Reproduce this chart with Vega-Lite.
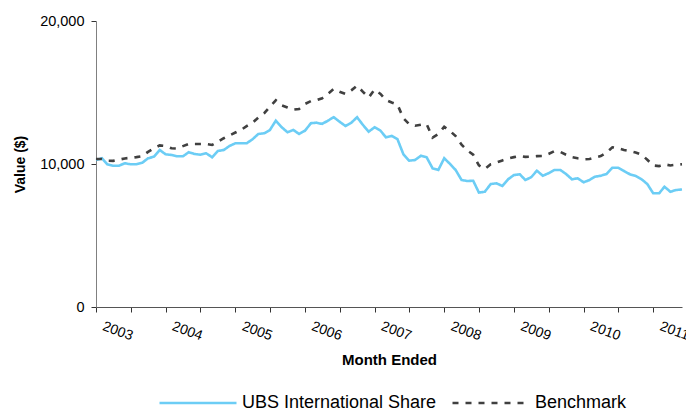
{
  "$schema": "https://vega.github.io/schema/vega-lite/v6.json",
  "width": 586,
  "height": 286,
  "autosize": {"type": "none"},
  "padding": {"left": 96, "top": 21, "right": 4, "bottom": 105},
  "background": "white",
  "config": {"view": {"stroke": null}, "font": "Liberation Sans"},
  "data": {"values": [
    {"date":"2003-01-01","UBS":10280,"B":10350},{"date":"2003-02-01","UBS":10400,"B":10350},{"date":"2003-03-01","UBS":9980,"B":10230},{"date":"2003-04-01","UBS":9880,"B":10220},{"date":"2003-05-01","UBS":9880,"B":10300},{"date":"2003-06-01","UBS":10050,"B":10390},{"date":"2003-07-01","UBS":9980,"B":10430},{"date":"2003-08-01","UBS":9980,"B":10480},{"date":"2003-09-01","UBS":10090,"B":10550},{"date":"2003-10-01","UBS":10400,"B":10850},{"date":"2003-11-01","UBS":10510,"B":11100},{"date":"2003-12-01","UBS":10980,"B":11300},
    {"date":"2004-01-01","UBS":10680,"B":11250},{"date":"2004-02-01","UBS":10630,"B":11100},{"date":"2004-03-01","UBS":10540,"B":11080},{"date":"2004-04-01","UBS":10540,"B":11250},{"date":"2004-05-01","UBS":10820,"B":11400},{"date":"2004-06-01","UBS":10700,"B":11400},{"date":"2004-07-01","UBS":10650,"B":11400},{"date":"2004-08-01","UBS":10750,"B":11400},{"date":"2004-09-01","UBS":10470,"B":11330},{"date":"2004-10-01","UBS":10910,"B":11550},{"date":"2004-11-01","UBS":10980,"B":11800},{"date":"2004-12-01","UBS":11260,"B":12000},
    {"date":"2005-01-01","UBS":11450,"B":12200},{"date":"2005-02-01","UBS":11450,"B":12400},{"date":"2005-03-01","UBS":11450,"B":12650},{"date":"2005-04-01","UBS":11730,"B":12890},{"date":"2005-05-01","UBS":12100,"B":13250},{"date":"2005-06-01","UBS":12150,"B":13550},{"date":"2005-07-01","UBS":12380,"B":14000},{"date":"2005-08-01","UBS":13030,"B":14450},{"date":"2005-09-01","UBS":12570,"B":14100},{"date":"2005-10-01","UBS":12220,"B":13950},{"date":"2005-11-01","UBS":12380,"B":13800},{"date":"2005-12-01","UBS":12100,"B":13850},
    {"date":"2006-01-01","UBS":12330,"B":14200},{"date":"2006-02-01","UBS":12850,"B":14400},{"date":"2006-03-01","UBS":12890,"B":14450},{"date":"2006-04-01","UBS":12800,"B":14600},{"date":"2006-05-01","UBS":13030,"B":14900},{"date":"2006-06-01","UBS":13270,"B":15250},{"date":"2006-07-01","UBS":12960,"B":15050},{"date":"2006-08-01","UBS":12660,"B":14900},{"date":"2006-09-01","UBS":12890,"B":15150},{"date":"2006-10-01","UBS":13270,"B":15480},{"date":"2006-11-01","UBS":12730,"B":15050},{"date":"2006-12-01","UBS":12260,"B":14650},
    {"date":"2007-01-01","UBS":12570,"B":15200},{"date":"2007-02-01","UBS":12330,"B":14900},{"date":"2007-03-01","UBS":11870,"B":14480},{"date":"2007-04-01","UBS":11960,"B":14300},{"date":"2007-05-01","UBS":11730,"B":14150},{"date":"2007-06-01","UBS":10680,"B":13200},{"date":"2007-07-01","UBS":10230,"B":12800},{"date":"2007-08-01","UBS":10280,"B":12680},{"date":"2007-09-01","UBS":10580,"B":12750},{"date":"2007-10-01","UBS":10470,"B":12780},{"date":"2007-11-01","UBS":9700,"B":11850},{"date":"2007-12-01","UBS":9580,"B":12100},
    {"date":"2008-01-01","UBS":10400,"B":12600},{"date":"2008-02-01","UBS":10000,"B":12300},{"date":"2008-03-01","UBS":9580,"B":11950},{"date":"2008-04-01","UBS":8880,"B":11350},{"date":"2008-05-01","UBS":8810,"B":10950},{"date":"2008-06-01","UBS":8830,"B":10650},{"date":"2008-07-01","UBS":8000,"B":9900},{"date":"2008-08-01","UBS":8060,"B":9650},{"date":"2008-09-01","UBS":8600,"B":9980},{"date":"2008-10-01","UBS":8650,"B":10100},{"date":"2008-11-01","UBS":8460,"B":10250},{"date":"2008-12-01","UBS":8930,"B":10380},
    {"date":"2009-01-01","UBS":9230,"B":10480},{"date":"2009-02-01","UBS":9280,"B":10560},{"date":"2009-03-01","UBS":8880,"B":10500},{"date":"2009-04-01","UBS":9070,"B":10510},{"date":"2009-05-01","UBS":9530,"B":10550},{"date":"2009-06-01","UBS":9180,"B":10560},{"date":"2009-07-01","UBS":9350,"B":10700},{"date":"2009-08-01","UBS":9580,"B":10900},{"date":"2009-09-01","UBS":9580,"B":10850},{"date":"2009-10-01","UBS":9300,"B":10650},{"date":"2009-11-01","UBS":8930,"B":10480},{"date":"2009-12-01","UBS":9000,"B":10400},
    {"date":"2010-01-01","UBS":8720,"B":10330},{"date":"2010-02-01","UBS":8880,"B":10350},{"date":"2010-03-01","UBS":9110,"B":10450},{"date":"2010-04-01","UBS":9180,"B":10550},{"date":"2010-05-01","UBS":9300,"B":10800},{"date":"2010-06-01","UBS":9740,"B":11170},{"date":"2010-07-01","UBS":9740,"B":11100},{"date":"2010-08-01","UBS":9510,"B":10980},{"date":"2010-09-01","UBS":9280,"B":10900},{"date":"2010-10-01","UBS":9160,"B":10800},{"date":"2010-11-01","UBS":8930,"B":10650},{"date":"2010-12-01","UBS":8600,"B":10300},
    {"date":"2011-01-01","UBS":7950,"B":9900},{"date":"2011-02-01","UBS":7950,"B":9850},{"date":"2011-03-01","UBS":8410,"B":9980},{"date":"2011-04-01","UBS":8060,"B":9900},{"date":"2011-05-01","UBS":8180,"B":9950},{"date":"2011-06-01","UBS":8220,"B":9980}
  ]},
  "transform": [
    {"fold": ["UBS", "B"], "as": ["key", "value"]},
    {"lookup": "key", "from": {"data": {"values": [{"key": "UBS", "series": "UBS International Share"}, {"key": "B", "series": "Benchmark"}]}, "key": "key", "fields": ["series"]}}
  ],
  "mark": {"type": "line", "strokeWidth": 2.6, "interpolate": "linear"},
  "encoding": {
    "x": {
      "field": "date", "type": "temporal",
      "scale": {"type": "utc", "domain": ["2003-01-01", "2011-06-01"]},
      "axis": {
        "title": "Month Ended", "titleFontSize": 15, "titleFontWeight": "bold", "titleColor": "black", "titlePadding": 10,
        "tickCount": {"interval": "month", "step": 6},
        "labelExpr": "utcFormat(datum.value, '%m') == '01' ? utcFormat(datum.value, '%Y') : ''",
        "labelAngle": 20, "labelFontSize": 14, "labelColor": "black", "labelOffset": 9, "labelPadding": 7,
        "grid": false, "tickSize": 5, "tickColor": "#333333", "domainColor": "#555555", "labelFlush": false, "labelOverlap": false
      }
    },
    "y": {
      "field": "value", "type": "quantitative",
      "scale": {"domain": [0, 20000]},
      "axis": {
        "title": "Value ($)", "titleFontSize": 14, "titleFontWeight": "bold", "titleColor": "black", "titlePadding": 12,
        "values": [0, 10000, 20000], "format": ",d",
        "labelFontSize": 14.5, "labelColor": "black", "labelPadding": 7,
        "grid": false, "tickSize": 5, "tickColor": "#333333", "domainColor": "#808080"
      }
    },
    "color": {
      "field": "series", "type": "nominal",
      "scale": {"domain": ["UBS International Share", "Benchmark"], "range": ["#6CCDF5", "#404040"]},
      "legend": {"title": null, "orient": "none", "legendX": 62, "legendY": 342, "direction": "horizontal", "symbolType": "stroke", "symbolSize": 5929, "symbolStrokeWidth": 2.6, "labelFontSize": 18, "labelColor": "black", "labelOffset": 4, "columnPadding": 10, "labelLimit": 400}
    },
    "strokeDash": {
      "field": "series", "type": "nominal",
      "scale": {"domain": ["UBS International Share", "Benchmark"], "range": [[1, 0], [6, 7]]},
      "legend": {"title": null, "orient": "none", "legendX": 62, "legendY": 342, "direction": "horizontal", "symbolType": "stroke", "symbolSize": 5929, "symbolStrokeWidth": 2.6, "labelFontSize": 18, "labelColor": "black", "labelOffset": 4, "columnPadding": 10, "labelLimit": 400}
    }
  }
}
